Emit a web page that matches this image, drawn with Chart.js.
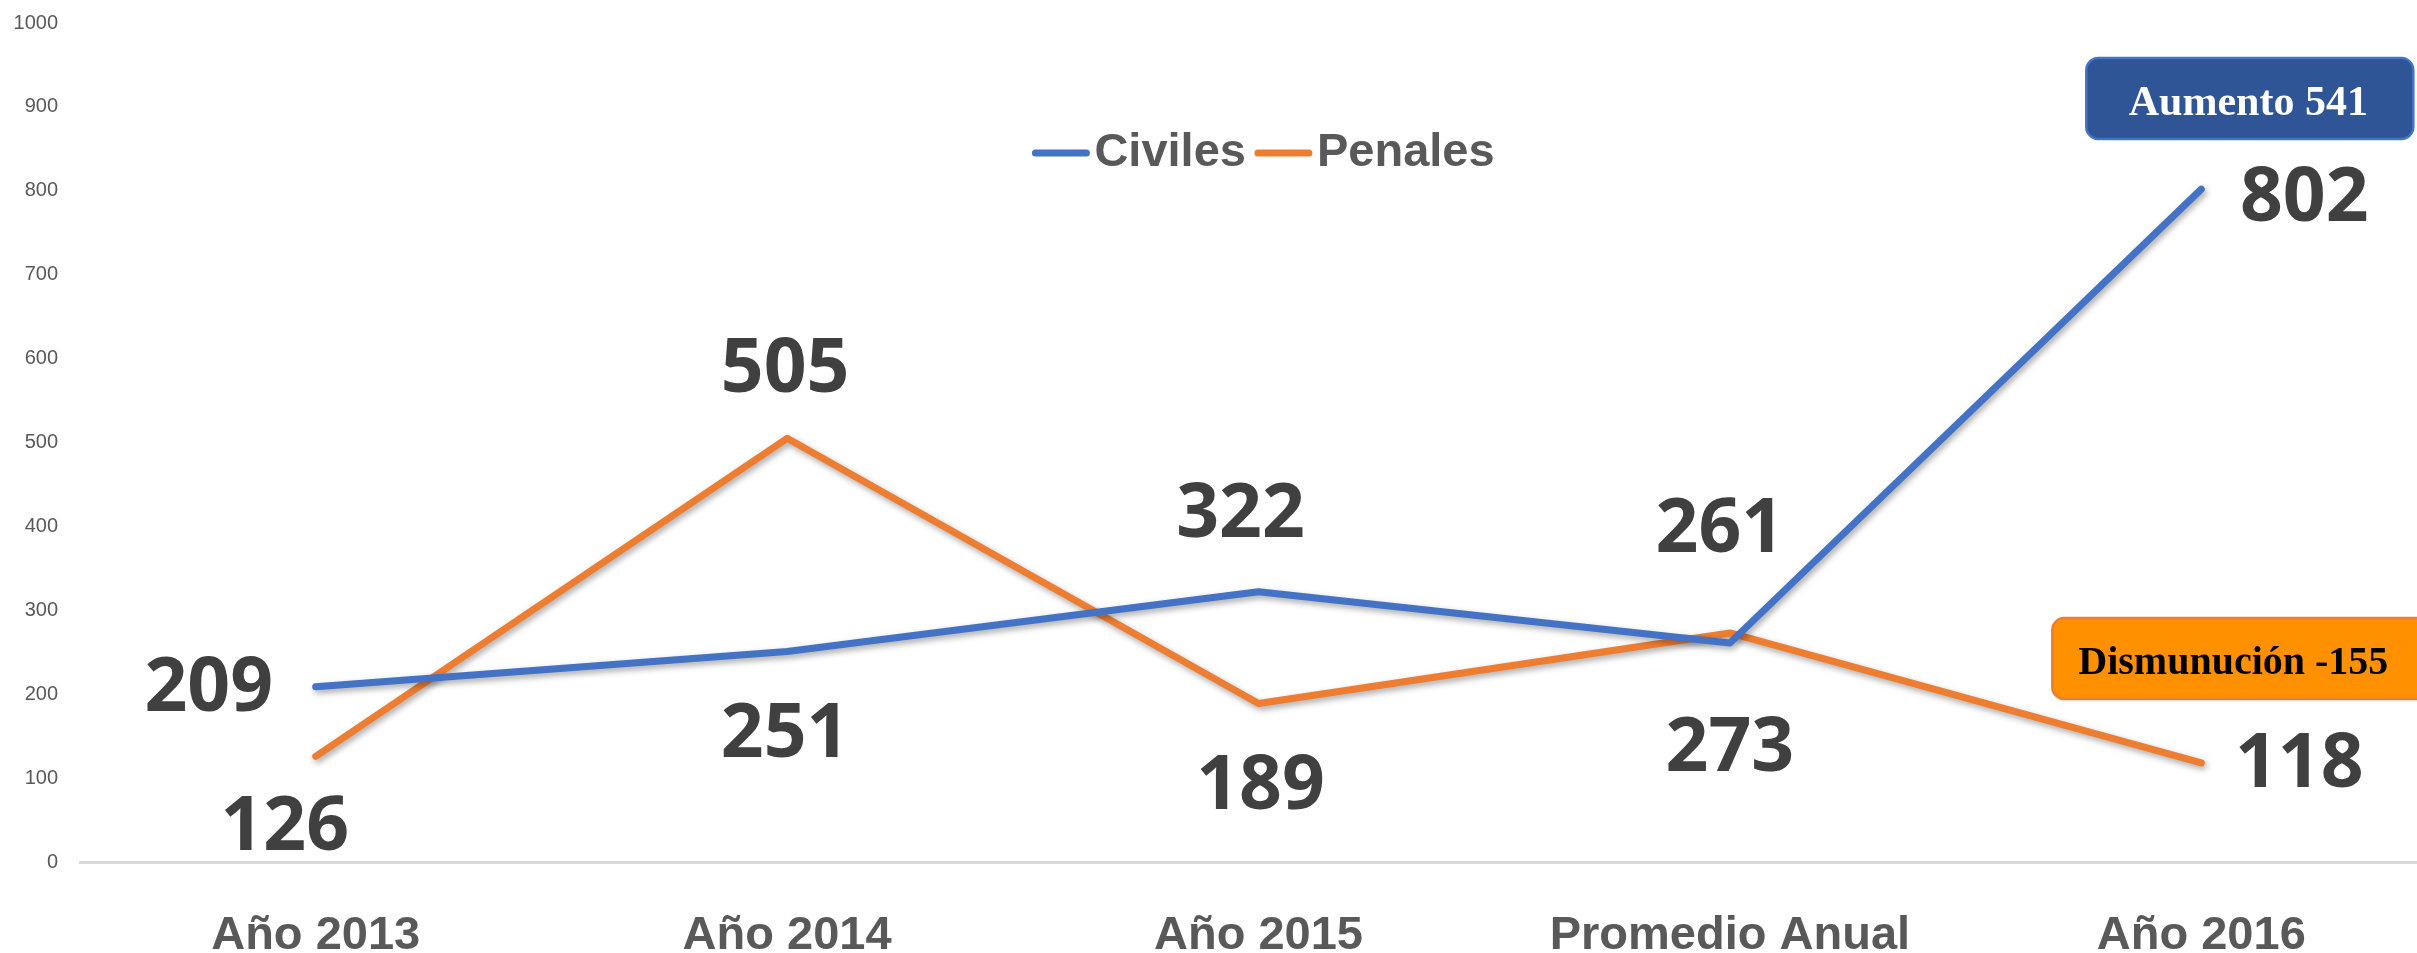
<!DOCTYPE html>
<html lang="es">
<head>
<meta charset="UTF-8">
<title>Civiles y Penales</title>
<script src="https://cdn.jsdelivr.net/npm/chart.js"></script>
<style>
  html, body { margin: 0; padding: 0; background: #fff; overflow: hidden; }
  /* the plot runs a little past the right edge of the window, as in the original */
  #wrap { width: 2437px; height: 953px; position: relative; }
</style>
</head>
<body>
<div id="wrap"><canvas id="chart"></canvas></div>
<script>
// datos
const categories = ['Año 2013', 'Año 2014', 'Año 2015', 'Promedio Anual', 'Año 2016'];
const civiles = [209, 251, 322, 261, 802];
const penales = [126, 505, 189, 273, 118];
const seriesNames = ['Civiles', 'Penales'];
const notes = ['Aumento 541', 'Dismunución -155'];

const blue = '#4472C4';
const orange = '#ED7D31';

// where each value label sits relative to its point (px)
const labelOffsets = [
  [[-107, 3], [-2, 84], [-18, -76], [-10, -112], [103, 11]],
  [[-31, 72], [-2, -68], [2, 84], [0, 117], [98, 3]]
];

Chart.defaults.font.family = '"Liberation Sans", Arial, sans-serif';

const lineShadow = {
  id: 'lineShadow',
  beforeDatasetsDraw(chart) {
    const ctx = chart.ctx;
    ctx.save();
    ctx.shadowColor = 'rgba(0,0,0,0.35)';
    ctx.shadowBlur = 6;
    ctx.shadowOffsetX = 2;
    ctx.shadowOffsetY = 3;
  },
  afterDatasetsDraw(chart) {
    chart.ctx.restore();
  }
};

const valueLabels = {
  id: 'valueLabels',
  afterDatasetsDraw(chart) {
    const ctx = chart.ctx;
    ctx.save();
    ctx.font = 'bold 75px "Open Sans"';
    ctx.fillStyle = '#404040';
    ctx.textAlign = 'center';
    ctx.textBaseline = 'middle';
    chart.data.datasets.forEach((ds, i) => {
      chart.getDatasetMeta(i).data.forEach((pt, j) => {
        const off = labelOffsets[i][j];
        ctx.fillText(ds.data[j], pt.x + off[0], pt.y + off[1]);
      });
    });
    ctx.restore();
  }
};

const topLegend = {
  id: 'topLegend',
  afterDraw(chart) {
    const ctx = chart.ctx;
    const area = chart.chartArea;
    ctx.save();
    ctx.font = 'bold 47px "Liberation Sans"';
    const lineLen = 57, gap = 5, itemGap = 9;
    const items = chart.data.datasets.map(ds => ({
      text: ds.label, color: ds.borderColor, w: ctx.measureText(ds.label).width
    }));
    let total = 0;
    items.forEach((it, k) => { total += lineLen + gap + it.w + (k ? itemGap : 0); });
    let x = (area.left + area.right) / 2 + 5 - total / 2;
    const cy = 153;
    ctx.textBaseline = 'middle';
    ctx.textAlign = 'left';
    items.forEach(it => {
      ctx.strokeStyle = it.color;
      ctx.lineWidth = 7;
      ctx.lineCap = 'round';
      ctx.beginPath();
      ctx.moveTo(x + 3, cy);
      ctx.lineTo(x + lineLen - 3, cy);
      ctx.stroke();
      x += lineLen + gap;
      ctx.fillStyle = '#595959';
      ctx.fillText(it.text, x, cy);
      x += it.w + itemGap;
    });
    ctx.restore();
  }
};

const noteBoxes = {
  id: 'noteBoxes',
  afterDraw(chart) {
    const ctx = chart.ctx;
    const px = chart.getDatasetMeta(0).data[4].x;
    ctx.save();
    // Aumento
    ctx.beginPath();
    ctx.roundRect(px - 115, 58, 327, 81, 12);
    ctx.fillStyle = '#2F5597';
    ctx.fill();
    ctx.lineWidth = 2.5;
    ctx.strokeStyle = blue;
    ctx.stroke();
    ctx.font = 'bold 42px "Liberation Serif"';
    ctx.fillStyle = '#fff';
    ctx.textAlign = 'center';
    ctx.textBaseline = 'alphabetic';
    ctx.fillText(notes[0], px + 47, 115);
    // Dismunución
    ctx.beginPath();
    ctx.roundRect(px - 149, 618, 400, 81, 12);
    ctx.fillStyle = '#FF9100';
    ctx.fill();
    ctx.lineWidth = 2.5;
    ctx.strokeStyle = orange;
    ctx.stroke();
    ctx.font = 'bold 40px "Liberation Serif"';
    ctx.fillStyle = '#000';
    ctx.textAlign = 'left';
    ctx.fillText(notes[1], px - 123, 674);
    ctx.restore();
  }
};

new Chart(document.getElementById('chart'), {
  type: 'line',
  data: {
    labels: categories,
    datasets: [
      { label: seriesNames[0], data: civiles, borderColor: blue, backgroundColor: blue },
      { label: seriesNames[1], data: penales, borderColor: orange, backgroundColor: orange }
    ]
  },
  options: {
    responsive: true,
    maintainAspectRatio: false,
    animation: false,
    layout: { padding: { top: 23, right: 0, bottom: 0, left: 0 } },
    elements: {
      line: { borderWidth: 7, tension: 0, borderCapStyle: 'round', borderJoinStyle: 'round', fill: false },
      point: { radius: 0, hoverRadius: 0 }
    },
    plugins: {
      legend: { display: false },
      tooltip: { enabled: false }
    },
    scales: {
      x: {
        offset: true,
        grid: { display: false, drawTicks: false },
        border: { display: true, color: '#D9D9D9', width: 3 },
        ticks: {
          color: '#595959',
          font: { size: 47, weight: 'bold' },
          padding: 46,
          maxRotation: 0,
          autoSkip: false
        },
        afterFit(s) { s.height = 91; }
      },
      y: {
        min: 0,
        max: 1000,
        grid: { display: false, drawTicks: false },
        border: { display: false },
        ticks: {
          stepSize: 100,
          color: '#595959',
          font: { size: 20 },
          padding: 22,
          callback: v => String(v)
        },
        afterFit(s) {
          s.width = 80;
          // tick padding is horizontal here, don't let it eat vertical room
          s.paddingTop = 12;
          s.paddingBottom = 12;
        }
      }
    }
  },
  plugins: [lineShadow, valueLabels, topLegend, noteBoxes]
});
</script>
</body>
</html>
